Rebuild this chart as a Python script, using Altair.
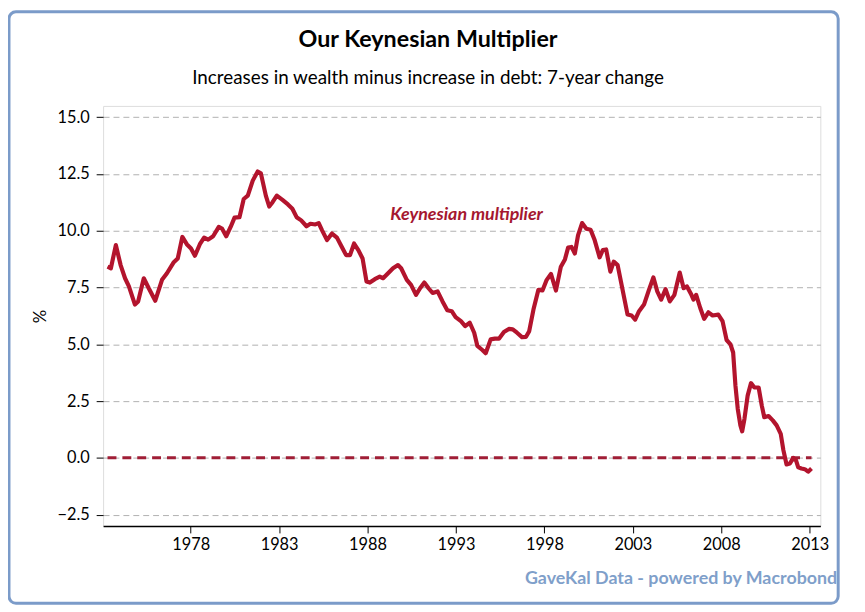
import altair as alt
import pandas as pd

# ---- data ----
years = [1973.30, 1973.49, 1973.77, 1974.04, 1974.29, 1974.51, 1974.85, 1975.03, 1975.35, 1975.63,
         1976.00, 1976.38, 1976.66, 1977.03, 1977.27, 1977.53, 1977.78, 1978.02, 1978.24, 1978.52,
         1978.76, 1978.99, 1979.27, 1979.59, 1979.77, 1980.01, 1980.26, 1980.48, 1980.76, 1981.00,
         1981.23, 1981.51, 1981.79, 1981.97, 1982.25, 1982.44, 1982.63, 1982.87, 1983.19, 1983.50,
         1983.75, 1983.99, 1984.25, 1984.55, 1984.77, 1985.05, 1985.24, 1985.43, 1985.71, 1985.99,
         1986.27, 1986.54, 1986.79, 1987.01, 1987.24, 1987.48, 1987.72, 1987.94, 1988.13, 1988.41,
         1988.69, 1988.88, 1989.16, 1989.44, 1989.72, 1989.90, 1990.22, 1990.46, 1990.74, 1990.97,
         1991.21, 1991.45, 1991.68, 1991.96, 1992.24, 1992.51, 1992.76, 1992.98, 1993.28, 1993.52,
         1993.78, 1994.03, 1994.21, 1994.49, 1994.68, 1994.96, 1995.20, 1995.43, 1995.71, 1995.99,
         1996.21, 1996.45, 1996.73, 1996.96, 1997.14, 1997.38, 1997.66, 1997.89, 1998.13, 1998.37,
         1998.65, 1998.93, 1999.16, 1999.34, 1999.53, 1999.72, 1999.90, 2000.13, 2000.37, 2000.61,
         2000.84, 2001.12, 2001.30, 2001.49, 2001.73, 2001.92, 2002.14, 2002.42, 2002.70, 2002.93,
         2003.13, 2003.35, 2003.63, 2003.91, 2004.16, 2004.38, 2004.60, 2004.85, 2005.09, 2005.35,
         2005.65, 2005.87, 2006.06, 2006.28, 2006.43, 2006.58, 2006.81, 2007.03, 2007.27, 2007.51,
         2007.83, 2008.07, 2008.30, 2008.52, 2008.67, 2008.80, 2008.93, 2009.08, 2009.18, 2009.31,
         2009.49, 2009.68, 2009.87, 2010.11, 2010.29, 2010.43, 2010.67, 2010.91, 2011.13, 2011.36,
         2011.51, 2011.69, 2011.88, 2012.07, 2012.22, 2012.35, 2012.53, 2012.72, 2012.91, 2013.10]
values = [8.42, 8.35, 9.37, 8.49, 7.91, 7.55, 6.75, 6.89, 7.91, 7.47,
          6.92, 7.84, 8.13, 8.60, 8.78, 9.73, 9.41, 9.22, 8.90, 9.41,
          9.70, 9.61, 9.76, 10.17, 10.10, 9.76, 10.17, 10.58, 10.60, 11.40,
          11.55, 12.21, 12.61, 12.53, 11.55, 11.07, 11.26, 11.55, 11.36, 11.16,
          10.97, 10.60, 10.46, 10.20, 10.31, 10.28, 10.34, 10.02, 9.59, 9.88,
          9.70, 9.30, 8.93, 8.93, 9.44, 9.15, 8.78, 7.77, 7.72, 7.87,
          7.98, 7.91, 8.13, 8.35, 8.49, 8.35, 7.84, 7.62, 7.18, 7.47,
          7.72, 7.47, 7.26, 7.33, 6.89, 6.50, 6.46, 6.20, 6.02, 5.80,
          5.95, 5.51, 4.93, 4.75, 4.61, 5.22, 5.25, 5.25, 5.54, 5.68,
          5.66, 5.51, 5.32, 5.33, 5.58, 6.53, 7.40, 7.37, 7.84, 8.10,
          7.37, 8.42, 8.74, 9.26, 9.29, 9.00, 9.80, 10.34, 10.09, 10.05,
          9.59, 8.83, 9.15, 9.18, 8.20, 8.64, 8.49, 7.40, 6.31, 6.27,
          6.09, 6.46, 6.75, 7.40, 7.95, 7.33, 6.97, 7.43, 6.89, 7.18,
          8.16, 7.47, 7.55, 7.23, 6.97, 7.18, 6.60, 6.12, 6.41, 6.27,
          6.31, 6.02, 5.19, 5.00, 4.64, 3.18, 2.16, 1.43, 1.17, 1.72,
          2.74, 3.29, 3.10, 3.10, 2.30, 1.79, 1.84, 1.65, 1.43, 1.06,
          0.34, -0.29, -0.25, 0.00, -0.10, -0.42, -0.47, -0.50, -0.61, -0.47]

title_text = "Our Keynesian Multiplier"
subtitle_text = "Increases in wealth  minus increase in debt: 7-year change"
source_text = "GaveKal Data - powered by Macrobond"
series_name = "Keynesian multiplier"
label_year = [1993.6]
label_value = [10.7]
zero_value = [0.0]
x_ticks = [1978, 1983, 1988, 1993, 1998, 2003, 2008, 2013]
y_ticks = [-2.5, 0.0, 2.5, 5.0, 7.5, 10.0, 12.5, 15.0]

df = pd.DataFrame({"year": years, "value": values})
df_zero = pd.DataFrame({"start": [min(years)], "end": [max(years)], "value": zero_value})
df_label = pd.DataFrame({"year": label_year, "value": label_value, "text": [series_name]})

FONT = "Lato"
LINE = "#b3142d"

xscale = alt.Scale(domain=[1973.05, 2013.6], nice=False, zero=False)
yscale = alt.Scale(domain=[-3.0, 15.5], nice=False, zero=False)

x_axis = alt.Axis(values=x_ticks, format="d", title=None, grid=False,
                  labelFontSize=16.5, labelColor="#000", labelFont=FONT, labelPadding=4,
                  tickColor="#000", tickSize=7, domainColor="#000", domainWidth=1.5,
                  labelFlush=False)
y_axis = alt.Axis(values=y_ticks, format=".1f", title="%", titleFontSize=17,
                  titleFontWeight="normal", titleColor="#000", titleFont=FONT,
                  titlePadding=8, labelFontSize=16.5, labelColor="#000", labelFont=FONT,
                  labelPadding=7, tickColor="#000", tickSize=7, domain=False,
                  grid=True, gridColor="#b0b0b0", gridDash=[6, 4], gridWidth=1)

frame = alt.Chart(pd.DataFrame({"k": [0]})).mark_rect(
    fill=None, stroke="#7b9bc9", strokeWidth=3, cornerRadius=7
).encode(x=alt.value(-95), x2=alt.value(742), y=alt.value(-95), y2=alt.value(502))

titles = alt.Chart(pd.DataFrame({"t": [title_text]})).mark_text(
    font=FONT, fontSize=23.5, fontWeight="bold", color="#000", align="center", baseline="middle"
).encode(x=alt.value(328), y=alt.value(-66), text="t:N")

subtitles = alt.Chart(pd.DataFrame({"t": [subtitle_text]})).mark_text(
    font=FONT, fontSize=19, color="#000", align="center", baseline="middle"
).encode(x=alt.value(328), y=alt.value(-28), text="t:N")

zero = alt.Chart(df_zero).mark_rule(
    color="#a01e36", strokeWidth=3, strokeDash=[9, 6]
).encode(x=alt.X("start:Q", scale=xscale, axis=x_axis), x2="end:Q",
         y=alt.Y("value:Q", scale=yscale, axis=y_axis))

line = alt.Chart(df).mark_line(color=LINE, strokeWidth=4.2, strokeJoin="round").encode(
    x=alt.X("year:Q", scale=xscale, axis=x_axis),
    y=alt.Y("value:Q", scale=yscale, axis=y_axis),
)

label = alt.Chart(df_label).mark_text(
    font=FONT, fontSize=18, fontStyle="italic", fontWeight="bold", color="#a5172f"
).encode(x=alt.X("year:Q", scale=xscale), y=alt.Y("value:Q", scale=yscale), text="text:N")

watermark = alt.Chart(pd.DataFrame({"t": [source_text]})).mark_text(
    font=FONT, fontSize=18, fontWeight="bold", color="#7f9fca", align="right", baseline="middle"
).encode(x=alt.value(741), y=alt.value(478), text="t:N")

chart = alt.layer(frame, titles, subtitles, zero, line, label, watermark).properties(
    width=724, height=424,
    autosize=alt.AutoSizeParams(type="none"),
    padding={"left": 96, "top": 96, "right": 37, "bottom": 84},
).configure_view(
    stroke="#555", strokeWidth=1.2, cornerRadius=6
).configure(background="white")

chart.save("out.html", embed_options={"renderer": "svg", "actions": False})
